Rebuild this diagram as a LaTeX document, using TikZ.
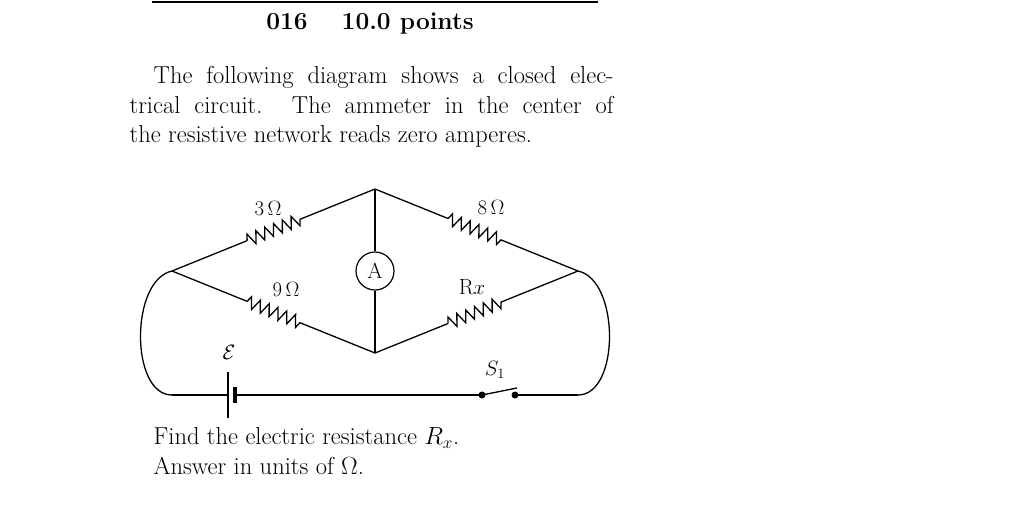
\documentclass[tikz,border=0pt]{standalone}
\usetikzlibrary{decorations.pathmorphing,calc}
\begin{document}
\begin{tikzpicture}[x=1pt,y=-1pt,line width=1.3pt,
  res/.style={decorate,decoration={zigzag,segment length=9.5,amplitude=6}},
  txt/.style={font=\fontsize{24.5}{29.5}\selectfont,inner sep=0},
  lab/.style={font=\fontsize{22}{23}\selectfont,inner sep=0}]
\useasboundingbox (0,0) rectangle (1024,531);
\draw[line width=2pt] (152,2) -- (598,2);
\node[txt,font=\fontsize{24.5}{29}\selectfont\bfseries] (title) at (370,24) {016\hspace{34pt}10.0 points};
\node[txt,anchor=north west,text width=484pt,align=justify] (para) at (129,66)
 {\hspace*{24pt}The following diagram shows a closed elec-\linebreak trical circuit. The ammeter in the center of\linebreak the resistive network reads zero amperes.};
\coordinate (L) at (172,271);
\coordinate (T) at (375,189);
\coordinate (B) at (375,353);
\coordinate (R) at (578,271);
\coordinate (BL) at (172,395);
\coordinate (BR) at (578,395);
\node[draw,circle,minimum size=38pt,inner sep=0,line width=1.2pt,lab] (A) at (375,271) {A};
\draw (L) -- ($(L)!0.37!(T)$) coordinate (a1);
\draw[res] (a1) -- ($(L)!0.64!(T)$) coordinate (a2);
\draw (a2) -- (T) -- ($(T)!0.36!(R)$) coordinate (b1);
\draw[res] (b1) -- ($(T)!0.63!(R)$) coordinate (b2);
\draw (b2) -- (R);
\draw (L) -- ($(L)!0.37!(B)$) coordinate (c1);
\draw[res] (c1) -- ($(L)!0.64!(B)$) coordinate (c2);
\draw (c2) -- (B) -- ($(B)!0.36!(R)$) coordinate (d1);
\draw[res] (d1) -- ($(B)!0.63!(R)$) coordinate (d2);
\draw (d2) -- (R);
\draw (T) -- (A) -- (B);
\draw (L) .. controls (130,280) and (130,395) .. (BL);
\draw (R) .. controls (620,280) and (620,395) .. (BR);
\coordinate (e1) at (228,395);
\coordinate (e2) at (235,395);
\draw (BL) -- (e1);
\draw (228,372) -- (228,418);
\draw[line width=3.5pt] (235,387) -- (235,403);
\coordinate (s1) at (482,395);
\coordinate (s2) at (515,395);
\draw (e2) -- (s1);
\fill (s1) circle (3.5pt);
\fill (s2) circle (3.5pt);
\draw (s1) -- (517,388);
\draw (s2) -- (BR);
\node[lab] (l3) at (268,208) {$3\,\Omega$};
\node[lab] (l8) at (491,207) {$8\,\Omega$};
\node[lab] (l9) at (286,289) {$9\,\Omega$};
\node[lab] (lx) at (472,287) {R$x$};
\node[lab] (le) at (229,352) {$\mathcal{E}$};
\node[lab] (ls) at (495,370) {$S_1$};
\node[txt,anchor=west] (q1) at (153,438) {Find the electric resistance $R_x$.};
\node[txt,anchor=west] (q2) at (153,466) {Answer in units of $\Omega$.};
\end{tikzpicture}
\end{document}
